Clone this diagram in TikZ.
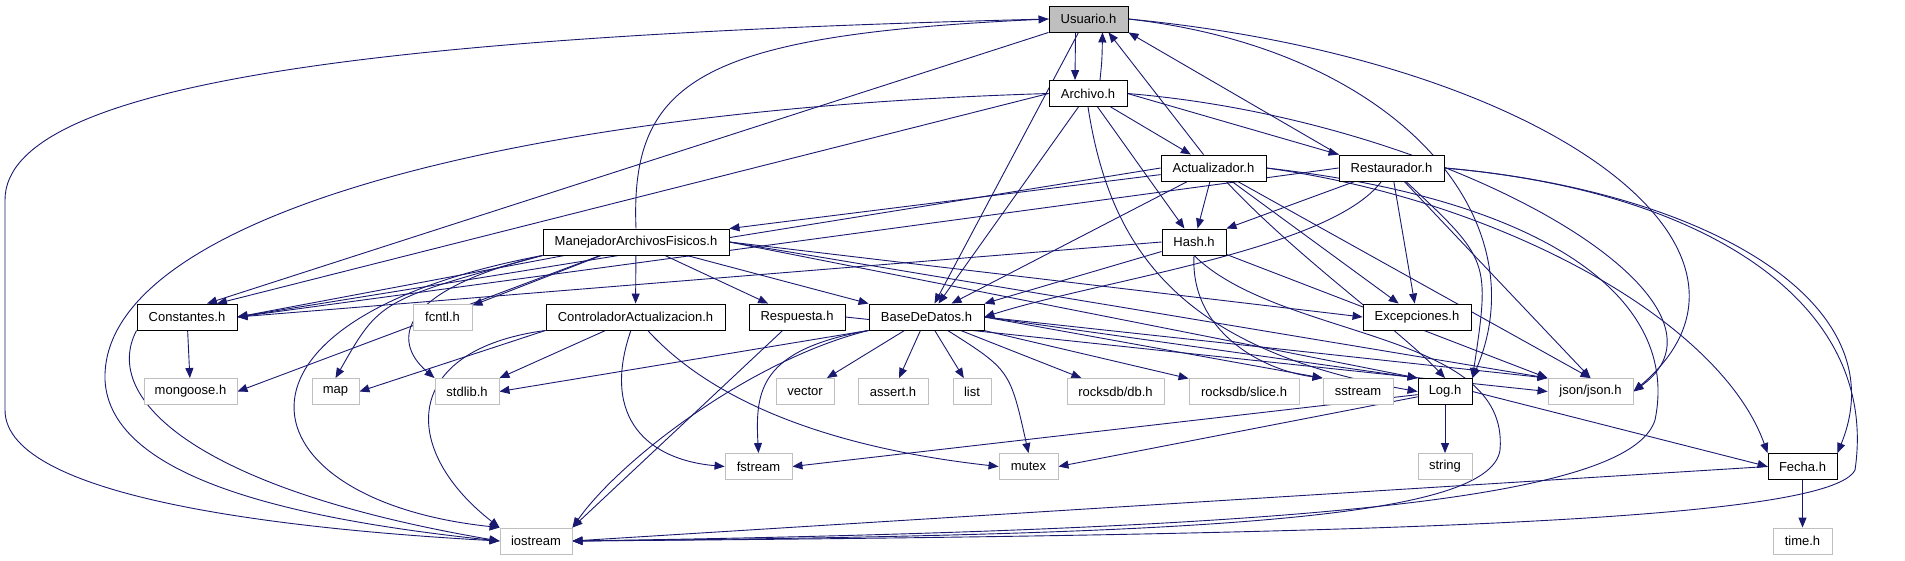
\documentclass[tikz,border=0pt]{standalone}
\usepackage{fontspec}
\setmainfont{Liberation Sans}
\usepackage{xcolor}
\usepackage{tikz}
\usetikzlibrary{arrows.meta, backgrounds}
\definecolor{edgeblue}{HTML}{191970}
\definecolor{sysgray}{HTML}{BFBFBF}

\begin{document}
\begin{tikzpicture}[x=1pt, y=-1pt,
    hdr/.style={draw=black, fill=white, line width=0.9pt, minimum height=26pt,
                inner sep=0pt, font=\fontsize{13}{15}\selectfont},
    syshdr/.style={hdr, draw=sysgray},
    root/.style={hdr, fill=sysgray},
    dep/.style={draw=edgeblue, line width=0.9pt, -{Triangle[length=10pt,width=8pt]}}]
    \useasboundingbox (0,0) rectangle (1905,560);

    \node[root, minimum width=79pt] (usuario) at (1088.5,19) {Usuario.h};
    \node[hdr, minimum width=78pt] (archivo) at (1088,93.5) {Archivo.h};
    \node[hdr, minimum width=105pt] (actualizador) at (1213.5,168) {Actualizador.h};
    \node[hdr, minimum width=105pt] (restaurador) at (1391.5,168) {Restaurador.h};
    \node[hdr, minimum width=186pt] (manejador) at (636,242) {ManejadorArchivosFisicos.h};
    \node[hdr, minimum width=64pt] (hash) at (1194,242) {Hash.h};
    \node[hdr, minimum width=100pt] (constantes) at (187,317) {Constantes.h};
    \node[syshdr, minimum width=59pt] (fcntl) at (442.5,317) {fcntl.h};
    \node[hdr, minimum width=179pt] (controlador) at (635.5,317) {ControladorActualizacion.h};
    \node[hdr, minimum width=96pt] (respuesta) at (797,317) {Respuesta.h};
    \node[hdr, minimum width=115pt] (basedatos) at (926.5,317) {BaseDeDatos.h};
    \node[hdr, minimum width=108pt] (excepciones) at (1417,317) {Excepciones.h};
    \node[syshdr, minimum width=93pt] (mongoose) at (190.5,391.5) {mongoose.h};
    \node[syshdr, minimum width=47pt] (map) at (335.5,391.5) {map};
    \node[syshdr, minimum width=64pt] (stdlib) at (467,391.5) {stdlib.h};
    \node[syshdr, minimum width=58pt] (vector) at (805,391.5) {vector};
    \node[syshdr, minimum width=70pt] (assert) at (893,391.5) {assert.h};
    \node[syshdr, minimum width=38pt] (list) at (972,391.5) {list};
    \node[syshdr, minimum width=97pt] (rocksdb) at (1115.5,391.5) {rocksdb/db.h};
    \node[syshdr, minimum width=110pt] (slice) at (1244,391.5) {rocksdb/slice.h};
    \node[syshdr, minimum width=70pt] (sstream) at (1358,391.5) {sstream};
    \node[hdr, minimum width=54pt] (log) at (1445,391.5) {Log.h};
    \node[syshdr, minimum width=85pt] (json) at (1590.5,391.5) {json/json.h};
    \node[syshdr, minimum width=67pt] (fstream) at (758.5,466.5) {fstream};
    \node[syshdr, minimum width=59pt] (mutex) at (1028.5,466.5) {mutex};
    \node[syshdr, minimum width=54pt] (string) at (1445,466.5) {string};
    \node[hdr, minimum width=69pt] (fecha) at (1802.5,466.5) {Fecha.h};
    \node[syshdr, minimum width=72pt] (iostream) at (536,541) {iostream};
    \node[syshdr, minimum width=59pt] (timeh) at (1802.5,541) {time.h};

    \begin{scope}[on background layer]
    \draw[dep] ([xshift=-13pt]usuario.south) -- ([xshift=-13pt]archivo.north);
    \draw[dep] (usuario.west) .. controls (400,35) and (5,80) .. (5,200) -- (5,410)
        .. controls (5,500) and (300,530) .. (iostream.west);
    \draw[dep] (usuario.south west) -- ([xshift=20pt]constantes.north);
    \draw[dep] ([xshift=-10pt]usuario.south) -- ([xshift=8pt]basedatos.north);
    \draw[dep] (usuario.east) .. controls (1400,50) and (1540,220) .. (log.north east);
    \draw[dep] (usuario.east) .. controls (1550,60) and (1800,250) .. (json.east);

    \draw[dep] ([xshift=12pt]archivo.north) .. controls (1102,60) .. ([xshift=14pt]usuario.south);
    \draw[dep] (archivo) -- (actualizador);
    \draw[dep] (archivo.east) -- (restaurador.north west);
    \draw[dep] (archivo) -- (hash);
    \draw[dep] (archivo) -- ([xshift=12pt]basedatos.north);
    \draw[dep] (archivo.west) -- ([xshift=30pt]constantes.north);
    \draw[dep] (archivo.west) .. controls (500,110) and (100,220) .. (105,380)
        .. controls (110,480) and (300,520) .. (iostream.west);
    \draw[dep] (archivo.south) .. controls (1110,250) and (1180,350) .. (log.west);
    \draw[dep] (archivo.east) .. controls (1450,120) and (1760,300) .. (json.east);

    \draw[dep] ([xshift=-10pt]actualizador.north) -- ([xshift=20pt]usuario.south);
    \draw[dep] (actualizador) -- (manejador.north east);
    \draw[dep] (actualizador) -- (hash);
    \draw[dep] (actualizador) -- ([xshift=25pt]basedatos.north);
    \draw[dep] (actualizador.west) -- (constantes.east);
    \draw[dep] (actualizador) -- (excepciones);
    \draw[dep] (actualizador) .. controls (1300,260) and (1400,330) .. (log.north);
    \draw[dep] (actualizador) -- (json.north);
    \draw[dep] (actualizador.east) .. controls (1500,200) and (1720,320) .. (fecha.north west);
    \draw[dep] (actualizador.east) .. controls (1550,200) and (1680,300) .. (1655,420)
        .. controls (1630,500) and (1300,530) .. (iostream.east);

    \draw[dep] (restaurador.north west) -- (usuario.south east);
    \draw[dep] (restaurador) -- (hash.north east);
    \draw[dep] (restaurador) .. controls (1330,250) and (1100,280) .. (basedatos.east);
    \draw[dep] (restaurador.west) -- (constantes.east);
    \draw[dep] (restaurador) -- (excepciones);
    \draw[dep] (restaurador) .. controls (1490,260) .. (log.north east);
    \draw[dep] (restaurador) -- (json.north);
    \draw[dep] (restaurador.east) .. controls (1700,190) and (1900,300) .. (fecha.north east);
    \draw[dep] (restaurador.east) .. controls (1700,190) and (1880,300) .. (1855,470)
        .. controls (1830,520) and (1400,535) .. (iostream.east);

    \draw[dep] (manejador.north) .. controls (630,80) and (700,35) .. (usuario.west);
    \draw[dep] (manejador) -- (constantes.east);
    \draw[dep] (manejador) -- (fcntl);
    \draw[dep] (manejador) -- (controlador);
    \draw[dep] (manejador) -- (respuesta);
    \draw[dep] (manejador) -- (basedatos.north west);
    \draw[dep] (manejador.east) -- (excepciones.west);
    \draw[dep] (manejador) -- (mongoose.east);
    \draw[dep] (manejador.south west) .. controls (380,300) .. (map.north);
    \draw[dep] (manejador.south west) .. controls (400,290) and (390,340) .. (stdlib.north west);
    \draw[dep] (manejador.south west) .. controls (200,320) and (240,500) .. (iostream.north west);
    \draw[dep] (manejador.east) -- (log.north west);
    \draw[dep] (manejador.east) -- (json.north west);

    \draw[dep] (hash.west) -- (constantes.east);
    \draw[dep] (hash) -- (basedatos.north east);
    \draw[dep] (hash.south) .. controls (1190,330) and (1260,370) .. (sstream.north west);
    \draw[dep] (hash.south) .. controls (1280,340) and (1510,330) .. (1500,450)
        .. controls (1490,520) and (1200,535) .. (iostream.east);
    \draw[dep] (hash) -- (json.north west);

    \draw[dep] (constantes) -- (mongoose);
    \draw[dep] (constantes.south west) .. controls (100,400) and (200,490) .. (iostream.west);

    \draw[dep] (controlador.south west) -- (map.east);
    \draw[dep] (controlador) -- (stdlib.north east);
    \draw[dep] (controlador.south west) .. controls (400,350) and (400,450) .. (iostream.north west);
    \draw[dep] (controlador) .. controls (600,420) and (650,460) .. (fstream.west);
    \draw[dep] (controlador) .. controls (720,410) and (850,450) .. (mutex.west);

    \draw[dep] (respuesta) -- (iostream.north east);
    \draw[dep] (respuesta.east) -- (json.west);

    \draw[dep] (basedatos) -- (vector);
    \draw[dep] (basedatos) -- (assert);
    \draw[dep] (basedatos) -- (list);
    \draw[dep] (basedatos) -- (rocksdb);
    \draw[dep] (basedatos) -- (slice);
    \draw[dep] (basedatos.east) -- (sstream.north west);
    \draw[dep] (basedatos.east) -- (log.north west);
    \draw[dep] (basedatos.east) -- (json.north west);
    \draw[dep] (basedatos) .. controls (1010,370) .. (mutex.north);
    \draw[dep] (basedatos.south west) .. controls (760,350) and (755,390) .. (fstream.north);
    \draw[dep] (basedatos.south west) .. controls (750,360) and (620,460) .. (iostream.north east);
    \draw[dep] (basedatos.south west) -- (stdlib.east);

    \draw[dep] (log) -- (string);
    \draw[dep] (log.east) -- (fecha.west);
    \draw[dep] (log) -- (fstream.east);
    \draw[dep] (log) -- (mutex.east);

    \draw[dep] (fecha) -- (timeh);
    \draw[dep] (fecha.west) -- (iostream.east);
    \end{scope}
\end{tikzpicture}
\end{document}
